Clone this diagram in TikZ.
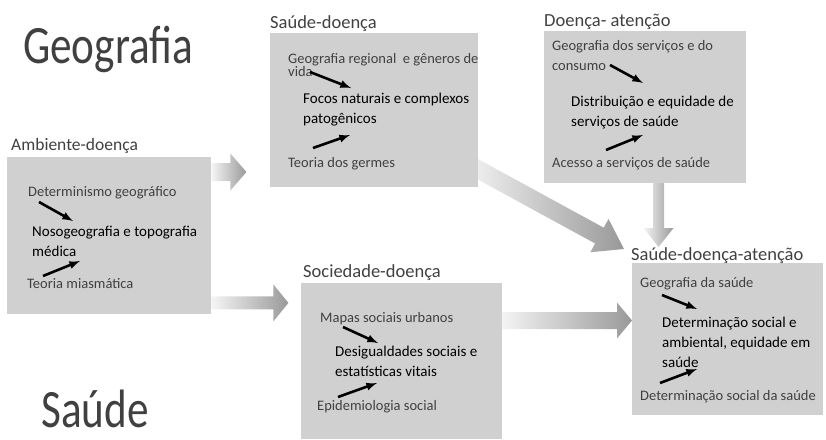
\documentclass[tikz,border=0pt]{standalone}
\usepackage{fontspec}
\setmainfont{Carlito}
\newfontfamily\bigfont{Carlito}[FakeStretch=0.8]
\usetikzlibrary{arrows,shapes,positioning,calc,backgrounds}

\definecolor{txtgray}{RGB}{64,64,64}
\definecolor{boxgray}{RGB}{208,208,208}

\tikzset{
  box/.style={fill=boxgray,draw=none,inner sep=0pt,anchor=north west},
  bigtitle/.style={anchor=base west,inner sep=0pt,text=txtgray,font=\bigfont\fontsize{54}{60}\selectfont},
  title/.style={anchor=base west,inner sep=0pt,text=txtgray,font=\fontsize{18.5}{22}\selectfont},
  small/.style={anchor=base west,inner sep=0pt,text=txtgray,align=left,font=\fontsize{14.5}{20}\selectfont},
  main/.style={anchor=base west,inner sep=0pt,text=black,align=left,font=\fontsize{15}{20}\selectfont},
  link/.style={line width=2.6pt,-latex,black},
  fat/.style={left color=gray!8,right color=gray!80,draw=none},
}

% shaded block arrow: from, to, shaft half width, head half width, head length
\newcommand{\fatarrow}[5]{%
  \path let \p1=($(#2)-(#1)$) in
    \pgfextra{\pgfmathsetmacro\fatang{atan2(\y1,\x1)}\pgfmathsetmacro\fatlen{veclen(\x1,\y1)}%
      \global\let\fatang\fatang\global\let\fatlen\fatlen};
  \begin{scope}[shift={(#1)},rotate=\fatang]
    \shade[fat] (0,#3) -- (\fatlen-#5,#3) -- (\fatlen-#5,#4) -- (\fatlen,0)
      -- (\fatlen-#5,-#4) -- (\fatlen-#5,-#3) -- (0,-#3) -- cycle;
  \end{scope}}

\begin{document}
\begin{tikzpicture}[x=1pt,y=-1pt]
\useasboundingbox (0,0) rectangle (826,439);

\node[bigtitle] (geo) at (23,63) {Geografia};
\node[bigtitle] (sau) at (41,427) {Saúde};

% boxes
\node[box,minimum width=204pt,minimum height=157pt] (amb) at (7,157) {};
\node[box,minimum width=208pt,minimum height=154pt] (sd) at (270,33) {};
\node[box,minimum width=202pt,minimum height=152pt] (da) at (544,31) {};
\node[box,minimum width=201pt,minimum height=156pt] (soc) at (301,283) {};
\node[box,minimum width=191pt,minimum height=152pt] (sda) at (632,263) {};

\node[title,font=\fontsize{17.5}{22}\selectfont] (ambT) at (11,150) {Ambiente-doença};
\node[title] (sdT) at (270,28) {Saúde-doença};
\node[title] (daT) at (544,26) {Doença- atenção};
\node[title] (socT) at (303,277) {Sociedade-doença};
\node[title] (sdaT) at (631,260) {Saúde-doença-atenção};

% Ambiente-doenca (multi-line texts sit on their last baseline)
\node[small] (amb1) at (28,196) {Determinismo geográfico};
\node[main] (amb2) at (32,256) {Nosogeografia e topografia\\médica};
\node[small] (amb3) at (27,288) {Teoria miasmática};
\coordinate (amb1a) at (39,202); \coordinate (amb1b) at (73,221);
\coordinate (amb3a) at (43,276); \coordinate (amb3b) at (80,261);
\draw[link] (amb1a) -- (amb1b);
\draw[link] (amb3a) -- (amb3b);

% Saude-doenca
\node[small,font=\fontsize{14.5}{13}\selectfont] (sd1) at (288,76) {Geografia regional\ \ e gêneros de\\vida};
\node[main] (sd2) at (303,123) {Focos naturais e complexos\\patogênicos};
\node[small] (sd3) at (288,167) {Teoria dos germes};
\coordinate (sd1a) at (310,72); \coordinate (sd1b) at (351,88);
\coordinate (sd3a) at (313,148); \coordinate (sd3b) at (350,135);
\draw[link] (sd1a) -- (sd1b);
\draw[link] (sd3a) -- (sd3b);

% Doenca- atencao
\node[small] (da1) at (552,70) {Geografia dos serviços e do\\consumo};
\node[main] (da2) at (571,126) {Distribuição e equidade de\\serviços de saúde};
\node[small] (da3) at (552,167) {Acesso a serviços de saúde};
\coordinate (da1a) at (610,65); \coordinate (da1b) at (643,83);
\coordinate (da3a) at (606,150); \coordinate (da3b) at (643,135);
\draw[link] (da1a) -- (da1b);
\draw[link] (da3a) -- (da3b);

% Sociedade-doenca
\node[small] (soc1) at (320,322) {Mapas sociais urbanos};
\node[main] (soc2) at (335,376) {Desigualdades sociais e\\estatísticas vitais};
\node[small] (soc3) at (317,410) {Epidemiologia social};
\coordinate (soc1a) at (343,327); \coordinate (soc1b) at (378,343);
\coordinate (soc3a) at (338,397); \coordinate (soc3b) at (377,383);
\draw[link] (soc1a) -- (soc1b);
\draw[link] (soc3a) -- (soc3b);

% Saude-doenca-atencao
\node[small] (sda1) at (640,287) {Geografia da saúde};
\node[main] (sda2) at (662,367) {Determinação social e\\ambiental, equidade em\\saúde};
\node[small] (sda3) at (640,400) {Determinação social da saúde};
\coordinate (sda1a) at (662,295); \coordinate (sda1b) at (697,309);
\coordinate (sda3a) at (660,383); \coordinate (sda3b) at (697,369);
\draw[link] (sda1a) -- (sda1b);
\draw[link] (sda3a) -- (sda3b);

% block arrows
\coordinate (f1a) at ($(amb.north east)+(0,15)$);  \coordinate (f1b) at ($(f1a)+(35,0)$);
\coordinate (f2a) at ($(amb.south east)+(0,-11.5)$); \coordinate (f2b) at ($(f2a)+(77,0)$);
\coordinate (f3a) at ($(soc.north east)+(-2,37.5)$); \coordinate (f3b) at ($(sda.north west)+(0,57.5)$);
\coordinate (f4a) at ($(da.south west)+(114.5,-1)$); \coordinate (f4b) at ($(sda.north west)+(26.5,-16)$);
\coordinate (f5a) at ($(sd.north east)+(-12,130)$); \coordinate (f5b) at (624,249);
\begin{scope}[on background layer]
\fatarrow{f1a}{f1b}{9}{18.5}{16}
\fatarrow{f2a}{f2b}{6.5}{18.5}{15}
\fatarrow{f3a}{f3b}{8.5}{18}{15}
\fatarrow{f4a}{f4b}{5.5}{15}{19}
\fatarrow{f5a}{f5b}{9}{19}{28}
\end{scope}
\end{tikzpicture}
\end{document}
